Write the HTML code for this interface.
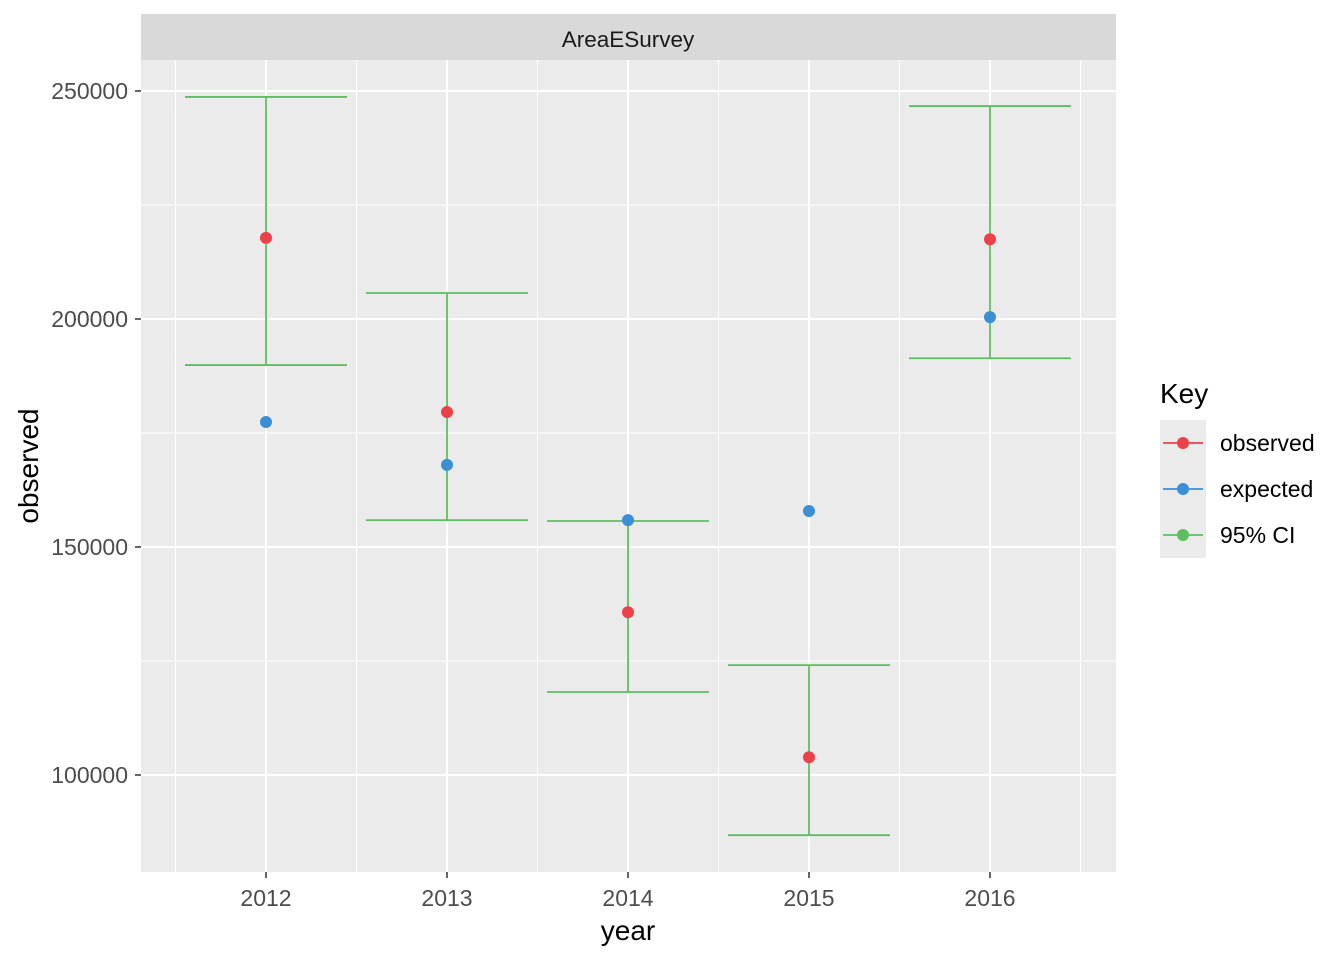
<!DOCTYPE html>
<html><head><meta charset="utf-8"><style>
body{margin:0;background:#fff;font-family:"Liberation Sans",sans-serif}
svg text{font-family:"Liberation Sans",sans-serif}
</style></head><body>
<svg id="chart" width="1344" height="960">
<rect x="141" y="60" width="975" height="812" fill="#EBEBEB"/>
<rect x="141" y="14" width="975" height="46" fill="#D9D9D9"/>
<text x="628" y="47" font-size="22.5" text-anchor="middle" fill="#1A1A1A">AreaESurvey</text>
<g id="grid"></g><g id="marks"></g><g id="axes"></g>
<text x="628" y="940" font-size="28" text-anchor="middle" fill="#000">year</text>
<text transform="translate(38,466) rotate(-90)" font-size="28" text-anchor="middle" fill="#000">observed</text>
<text x="1160" y="403" font-size="28" fill="#000">Key</text>
<g id="legend"></g>
</svg>
<script>
const years=[2012,2013,2014,2015,2016];
const observed=[217800,179600,135700,103900,217500];
const expected=[177400,168000,155900,157900,200400];
const ciUpper=[248700,205700,155700,124100,246700];
const ciLower=[189900,155900,118200,86800,191400];
const yTicks=[100000,150000,200000,250000];
const legendLabels=["observed","expected","95% CI"];
const C={obs:"#EE4048",exp:"#3A8FD6",ci:"#5DBE5F"};
const NS="http://www.w3.org/2000/svg";
const X=v=>266+(v-2012)*181;
const Y=v=>319-(v-200000)/50000*228;
function mk(p,t,a){const e=document.createElementNS(NS,t);for(const k in a)e.setAttribute(k,a[k]);p.appendChild(e);return e;}
const grid=document.getElementById('grid'),marks=document.getElementById('marks'),axes=document.getElementById('axes'),leg=document.getElementById('legend');
for(let v=75000;v<=262500;v+=25000){const y=Y(v);if(y<60||y>872)continue;
 const major=v%50000===0;
 const l=mk(grid,'line',{x1:141,x2:1116,y1:y,y2:y,stroke:'#fff','stroke-width':major?2:1});
 }
for(let v=2011.5;v<=2016.5;v+=0.5){const x=X(v);const major=Number.isInteger(v);
 const l=mk(grid,'line',{x1:x,x2:x,y1:60,y2:872,stroke:'#fff','stroke-width':major?2:1});
 }
yTicks.forEach(v=>{const y=Y(v);
 mk(axes,'line',{x1:135,x2:141,y1:y,y2:y,stroke:'#333','stroke-width':1.5});
 const t=mk(axes,'text',{x:128,y:y+8,'font-size':23,'text-anchor':'end',fill:'#4D4D4D'});t.textContent=v;
 });
years.forEach((yr,i)=>{const x=X(yr);
 mk(axes,'line',{x1:x,x2:x,y1:872,y2:878,stroke:'#333','stroke-width':1.5});
 const t=mk(axes,'text',{x:x,y:906,'font-size':23,'text-anchor':'middle',fill:'#4D4D4D'});t.textContent=yr;
 
 const g=mk(marks,'g',{stroke:C.ci,'stroke-width':1.8,fill:'none'});
 
 mk(g,'line',{x1:x,x2:x,y1:Y(ciUpper[i]),y2:Y(ciLower[i])});
 mk(g,'line',{x1:x-81,x2:x+81,y1:Y(ciUpper[i]),y2:Y(ciUpper[i])});
 mk(g,'line',{x1:x-81,x2:x+81,y1:Y(ciLower[i]),y2:Y(ciLower[i])});
 const pe=mk(marks,'circle',{cx:x,cy:Y(expected[i]),r:6,fill:C.exp});
 
 const po=mk(marks,'circle',{cx:x,cy:Y(observed[i]),r:6,fill:C.obs});
 });
const lc=[C.obs,C.exp,C.ci];
legendLabels.forEach((lab,i)=>{const y=443+i*46;
 const g=mk(leg,'g',{});
 mk(g,'rect',{x:1160,y:y-23,width:46,height:46,fill:'#EBEBEB'});
 mk(g,'line',{x1:1163,x2:1203,y1:y,y2:y,stroke:lc[i],'stroke-width':1.8});
 mk(g,'circle',{cx:1183,cy:y,r:6,fill:lc[i]});
 const t=mk(g,'text',{x:1220,y:y+8,'font-size':23,fill:'#000'});t.textContent=lab;});
</script>
</body></html>
